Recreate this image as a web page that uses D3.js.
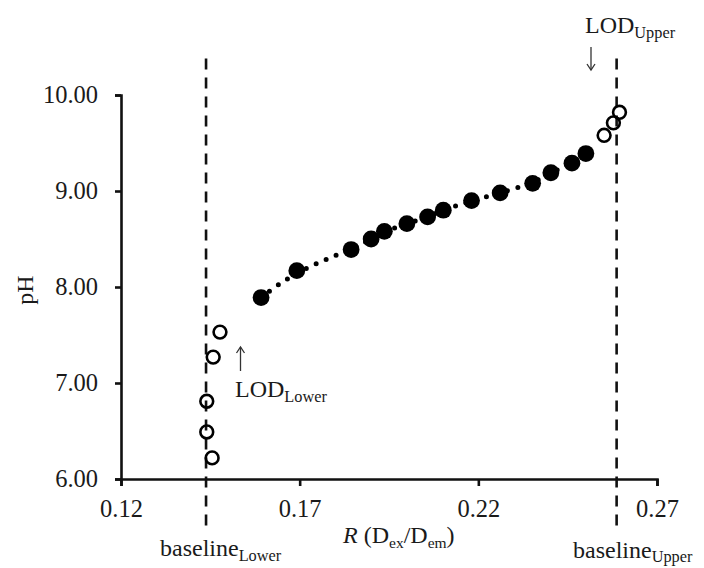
<!DOCTYPE html>
<html>
<head>
<meta charset="utf-8">
<script src="https://cdn.jsdelivr.net/npm/d3@7"></script>
<style>
  body { margin: 0; background: #fff; }
  svg text { font-family: "Liberation Serif", "Times New Roman", serif; fill: #1a1a1a; }
</style>
</head>
<body>
<svg id="chart" width="704" height="568"></svg>
<script>
// pH vs R (Dex/Dem)
const fitR  = [0.1592, 0.1692, 0.1844, 0.1900, 0.1937, 0.2000, 0.2058, 0.2102, 0.2181, 0.2261, 0.2352, 0.2403, 0.2462, 0.2501];
const fitPH = [7.89, 8.17, 8.39, 8.50, 8.58, 8.66, 8.73, 8.80, 8.90, 8.98, 9.08, 9.19, 9.29, 9.39];

const outR  = [0.1440, 0.1440, 0.1455, 0.1458, 0.1477, 0.2552, 0.2578, 0.2595];
const outPH = [6.49, 6.81, 6.22, 7.27, 7.53, 9.58, 9.71, 9.82];

const baselines = [0.1438, 0.2587];
const xTicks = [0.12, 0.17, 0.22, 0.27];
const yTicks = [6, 7, 8, 9, 10];

const svg = d3.select('#chart');

const x = d3.scaleLinear().domain([0.12, 0.27]).range([121, 657]);
const y = d3.scaleLinear().domain([6, 10]).range([479, 95]);

// dashed baselines
svg.selectAll('.baseline')
    .data(baselines)
  .join('line')
    .attr('class', 'baseline')
    .attr('x1', d => x(d)).attr('x2', d => x(d))
    .attr('y1', y(10.38)).attr('y2', y(5.5))
    .attr('stroke', '#111')
    .attr('stroke-width', 2.6)
    .attr('stroke-dasharray', '11 8');

// axes
const xAxis = d3.axisBottom(x).tickValues(xTicks).tickFormat(d3.format('.2f'))
    .tickSize(7).tickPadding(14);
const yAxis = d3.axisLeft(y).tickValues(yTicks).tickFormat(d3.format('.2f'))
    .tickSize(6).tickPadding(17);

const xg = svg.append('g').attr('transform', `translate(0,${y(6)})`).call(xAxis);
const yg = svg.append('g').attr('transform', `translate(${x(0.12)},0)`).call(yAxis);
[xg, yg].forEach(g => {
  g.attr('font-family', null).attr('font-size', null);
  g.selectAll('path, line').attr('stroke', '#111').attr('stroke-width', 2.6);
  g.selectAll('text').style('font-size', '24.5px').attr('fill', '#1a1a1a');
});

// dotted trend through the fitted points
const fitData = fitR.map((r, i) => ({ r, ph: fitPH[i] }));
svg.append('path')
    .datum(fitData)
    .attr('fill', 'none')
    .attr('stroke', '#000')
    .attr('stroke-width', 5)
    .attr('stroke-linecap', 'round')
    .attr('stroke-dasharray', '0 10.8')
    .attr('d', d3.line().x(d => x(d.r)).y(d => y(d.ph)).curve(d3.curveBasis));

svg.selectAll('.fit')
    .data(fitData)
  .join('circle')
    .attr('class', 'fit')
    .attr('cx', d => x(d.r))
    .attr('cy', d => y(d.ph))
    .attr('r', 8.4)
    .attr('fill', '#000');

svg.selectAll('.out')
    .data(outR.map((r, i) => ({ r, ph: outPH[i] })))
  .join('circle')
    .attr('class', 'out')
    .attr('cx', d => x(d.r))
    .attr('cy', d => y(d.ph))
    .attr('r', 6.4)
    .attr('fill', 'none')
    .attr('stroke', '#000')
    .attr('stroke-width', 2.6);

// text with subscript helper
function subText(px, py, main, sub, size, shift) {
  const t = svg.append('text').attr('x', px).attr('y', py)
      .style('font-size', size + 'px');
  t.append('tspan').text(main);
  t.append('tspan').attr('dy', shift).style('font-size', (size * 0.68) + 'px').text(sub);
  return t;
}

// axis titles
svg.append('text')
    .attr('transform', 'translate(33,290) rotate(-90)')
    .attr('text-anchor', 'middle')
    .style('font-size', '24px')
    .text('pH');

const xt = svg.append('text').attr('x', 343).attr('y', 543).style('font-size', '24px');
xt.append('tspan').style('font-style', 'italic').text('R');
xt.append('tspan').text(' (D');
xt.append('tspan').attr('dy', 5).style('font-size', '15.5px').text('ex');
xt.append('tspan').attr('dy', -5).text('/D');
xt.append('tspan').attr('dy', 5).style('font-size', '15.5px').text('em');
xt.append('tspan').attr('dy', -5).text(')');

subText(160, 556, 'baseline', 'Lower', 24, 5);
subText(573, 558, 'baseline', 'Upper', 24, 3.5);
subText(235, 397, 'LOD', 'Lower', 24, 5);
subText(585, 33, 'LOD', 'Upper', 24, 5);

// annotation arrows
function arrow(ax, yFrom, yTo) {
  const dir = yTo < yFrom ? 1 : -1;
  svg.append('line').attr('x1', ax).attr('x2', ax).attr('y1', yFrom).attr('y2', yTo)
      .attr('stroke', '#333').attr('stroke-width', 1.3);
  svg.append('path')
      .attr('d', `M${ax - 4},${yTo + dir * 6} L${ax},${yTo} L${ax + 4},${yTo + dir * 6}`)
      .attr('fill', 'none').attr('stroke', '#333').attr('stroke-width', 1.3);
}
arrow(240.5, 371, 347);
arrow(591, 47, 70);
</script>
</body>
</html>
